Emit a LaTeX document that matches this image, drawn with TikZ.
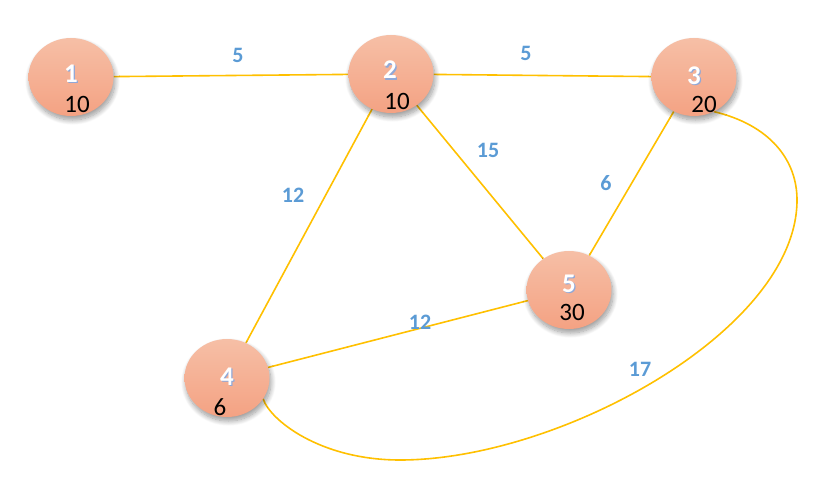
\documentclass[tikz,border=0pt]{standalone}
\usepackage{fontspec}
\setmainfont{Carlito}
\usetikzlibrary{shapes.geometric,shadows,shadows.blur,backgrounds}
\definecolor{edgeyel}{HTML}{FFC000}
\definecolor{lblblue}{HTML}{5B9BD5}
\definecolor{ntop}{HTML}{F6BFA6}
\definecolor{nbot}{HTML}{F4A283}
\definecolor{numshadow}{HTML}{8FA8D8}
\tikzset{
  vertex/.style={ellipse, minimum width=85pt, minimum height=78pt, inner sep=0pt,
    top color=ntop, bottom color=nbot, draw=none,
    blur shadow={shadow xshift=1.5pt, shadow yshift=-4pt, shadow blur radius=5pt, shadow blur steps=12, shadow opacity=40}},
  edge/.style={draw=edgeyel, line width=1.6pt},
  wlbl/.style={font=\bfseries\fontsize{22}{26}\selectfont, text=lblblue},
  vallbl/.style={font=\fontsize{25}{30}\selectfont, text=black, inner sep=0pt},
  numsh/.style={font=\bfseries\fontsize{27}{32}\selectfont, text=numshadow, inner sep=0pt},
  numlbl/.style={font=\bfseries\fontsize{27}{32}\selectfont, text=white, inner sep=0pt},
}
\begin{document}
\begin{tikzpicture}[x=1pt,y=-1pt]
\useasboundingbox (0,0) rectangle (818,484);
% vertices
\node[vertex] (n1) at (71,77) {};
\node[vertex] (n2) at (391,74) {};
\node[vertex] (n3) at (694,77) {};
\node[vertex] (n5) at (569,290) {};
\node[vertex] (n4) at (227,378) {};
% edges
\begin{scope}[on background layer]
\path[edge] (n1) -- (n2);
\path[edge] (n2) -- (n3);
\path[edge] (n2) -- (n5);
\path[edge] (n2) -- (n4);
\path[edge] (n3) -- (n5);
\path[edge] (n4) -- (n5);
\path[edge] (n3.-60) .. controls (770,125) and (797,160) .. (797,200)
  .. controls (797,330) and (560,460) .. (400,460)
  .. controls (320,460) and (270,420) .. (n4.-30);
\end{scope}
% vertex numbers
\foreach \n/\x/\y in {1/71/74, 2/390/70, 3/694/76, 5/569/284, 4/227/377} {
  \node[numsh] (s\n) at (\x+1.2,\y+1.2) {\n};
  \node[numlbl] (t\n) at (\x,\y) {\n};
}
% values
\node[vallbl] (v1) at (77,104) {10};
\node[vallbl] (v2) at (397,101) {10};
\node[vallbl] (v3) at (704,104) {20};
\node[vallbl] (v5) at (572,312) {30};
\node[vallbl] (v4) at (220,407) {6};
% weights
\node[wlbl] (w12) at (238,55) {5};
\node[wlbl] (w23) at (526,53) {5};
\node[wlbl] (w25) at (488,150) {15};
\node[wlbl] (w24) at (293,195) {12};
\node[wlbl] (w35) at (606,183) {6};
\node[wlbl] (w45) at (420,322) {12};
\node[wlbl] (w34) at (640,369) {17};
\end{tikzpicture}
\end{document}
